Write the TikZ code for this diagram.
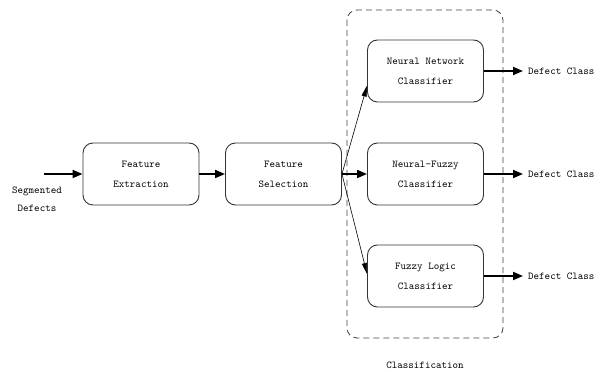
\documentclass[tikz,border=0pt]{standalone}
\usetikzlibrary{arrows.meta}

\begin{document}
\begin{tikzpicture}
[x=1pt,y=1pt,
  blockDecorate/.style={shape=rectangle,rounded corners=10pt,draw=black!80,
    line width=0.9pt,minimum width=116pt,minimum height=62pt,align=center,
    font=\fontsize{10.5}{20}\selectfont\ttfamily},%
  labelDecorate/.style={align=center,inner sep=0pt,
    font=\fontsize{10.5}{18}\selectfont\ttfamily},%
  thickArrow/.style={-{Triangle[length=10pt,width=8pt]},line width=1.8pt},%
  thinArrow/.style={-{Triangle[length=11pt,width=5pt]},line width=0.6pt}]
\useasboundingbox (0,0) rectangle (600,372);
%% classification group
\draw[black!75,line width=0.8pt,rounded corners=10pt,dash pattern=on 6pt off 4pt]
  (347,362) rectangle (503,34);
%% blocks
\foreach \nodename/\x/\y/\txt in {
  extr/141/198/{Feature\\Extraction}, sel/283.5/198/{Feature\\Selection},
  nn/425.5/301/{Neural Network\\Classifier},
  nf/425.5/198/{Neural-Fuzzy\\Classifier},
  fl/425.5/96/{Fuzzy Logic\\Classifier}}
{
  \node (\nodename) at (\x,\y) [blockDecorate] {\txt};
}
%% labels
\node (input) at (37,173) [labelDecorate] {Segmented\\Defects};
\node (out1) at (528,301) [labelDecorate,anchor=west] {Defect Class};
\node (out2) at (528,198) [labelDecorate,anchor=west] {Defect Class};
\node (out3) at (528,96) [labelDecorate,anchor=west] {Defect Class};
\node (group) at (425,7) [labelDecorate] {Classification};
\coordinate (start) at (44,198);
%% arrows
\draw[thickArrow] (start) -- (extr.west);
\draw[thickArrow] (extr.east) -- (sel.west);
\draw[thickArrow] (sel.east) -- (nf.west);
\draw[thinArrow] (sel.east) -- (nn.194);
\draw[thinArrow] (sel.east) -- (fl.178);
\foreach \startnode/\endnode in {nn/out1, nf/out2, fl/out3}
{
  \draw[thickArrow] (\startnode.east) -- ([xshift=-5pt]\endnode.west);
}
\end{tikzpicture}
\end{document}
